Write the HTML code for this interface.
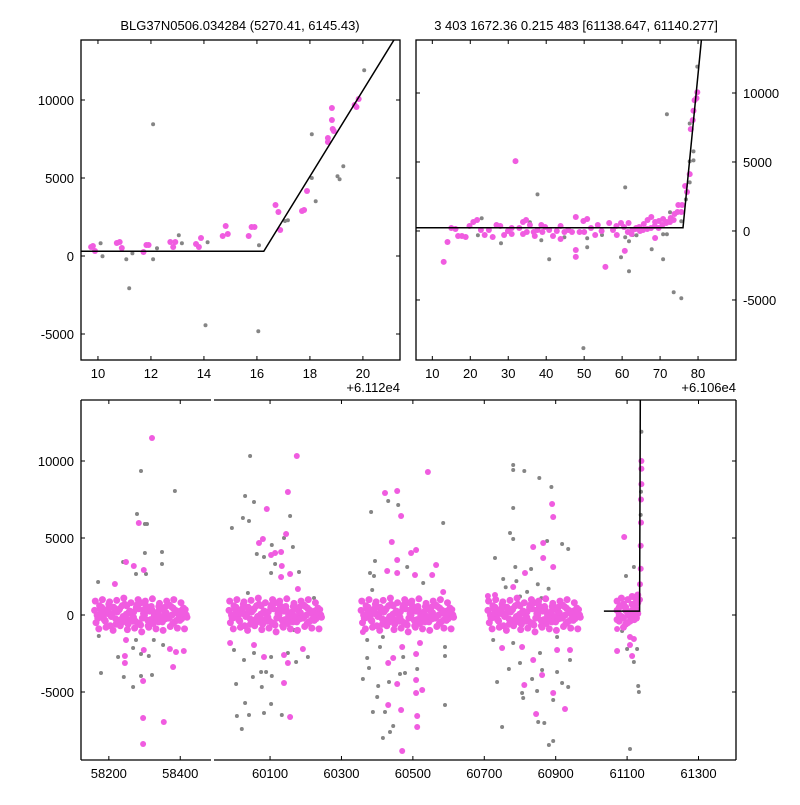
<!DOCTYPE html>
<html><head><meta charset="utf-8"><style>
body{margin:0;background:#fff}
svg text{font-family:"Liberation Sans",sans-serif;font-size:13px;fill:#000}
</style></head><body>
<svg id="s" width="800" height="800" xmlns="http://www.w3.org/2000/svg">
<text x="240" y="30" text-anchor="middle">BLG37N0506.034284 (5270.41, 6145.43)</text>
<text x="576" y="30" text-anchor="middle">3 403 1672.36 0.215 483 [61138.647, 61140.277]</text>
</svg>
<script>
// ---- top-left data ----
const tlPinkX=[9.74,9.81,9.89,10.71,10.82,10.9,11.72,11.83,11.91,12.73,12.84,12.92,13.7,13.81,13.89,14.71,14.82,14.9,15.69,15.8,15.91,16.7,16.81,16.88,17.7,17.78,17.89,18.68,18.68,18.83,18.83,18.86,18.9,19.69,19.76,19.84];
const tlPinkY=[577,641,320,833,898,513,256,705,705,898,577,898,769,577,1154,1282,1923,1410,1282,1859,1859,3270,2821,1667,2885,2949,4167,7565,7308,9488,8719,8142,8014,9681,9552,10065];
const tlGrayX=[10.1,10.17,11.07,11.18,11.3,12.08,12.08,12.23,13.05,13.17,14.06,14.14,16.05,16.08,17.06,17.17,18.07,18.07,18.22,19.04,19.12,19.26,20.05];
const tlGrayY=[812,-21,-214,-2073,171,8441,-214,492,1325,812,-4445,876,-4830,684,2244,2287,7800,5000,3505,5107,4915,5749,11903];
const tlLineX=[9.36,16.26,21.18];
const tlLineY=[300,300,13870];
// ---- top-right data ----
const trPinkX=[13,14,15,16.1,16.8,17.8,18.8,19.8,20.8,21.8,22.8,23.8,24.9,25.9,26.9,27.9,28.9,29.9,30.9,30.9,31.9,32.9,33.9,34.7,33.9,34.9,35.7,36.7,37,37.7,38.7,39,39.7,40.8,41.8,42.8,43.8,43.8,44.8,45.8,46.8,47.8,47.8,47.8,48.8,49.8,50.8,50,51.8,52.9,53.6,54.6,55.6,56.6,57.6,58.6,59.7,60.7,61.7,62.7,63.7,64.7,65.7,66.7,67.7,68.7,68.7,69.7,70.8,71.8,72.8,73.8,74.8,75.8,76.6,77.1,77.8,78.1,78.6,78.8,79.1,79.6,79.8,58.5,60.5,61.5,62.5,63.5,64.5,65.5,66.6,67.6,68.6,69.6,70.6,71.6,72.6,73.6,74.6,75.6];
const trPinkY=[-2243,-796,217,145,-362,-362,-434,362,651,796,72,-289,72,-434,434,362,-289,0,217,-217,5065,217,651,796,-217,-72,434,-72,-362,72,434,-72,289,72,-362,0,362,-579,-72,72,-72,1013,-1375,-1881,-72,724,868,-72,217,-289,434,0,-2605,579,72,-289,579,-1447,579,72,217,0,506,796,1013,-506,651,724,868,651,941,1230,1881,1881,3256,2822,4125,7381,8032,8707,9479,9624,10058,362,289,-72,-217,145,289,72,145,217,362,217,434,579,651,796,1375,1375];
const trGrayX=[22,23,28.1,35.7,37.7,38.7,40.8,44.8,49.8,50.8,50.8,54.7,59.7,60.8,60.8,61.8,61.8,62.8,63.8,67.8,70.8,70.8,71.8,71.8,72.6,73.6,75.6,75.6,76.8,77.8,77.8,78.8,78.8,77.8,79.8];
const trGrayY=[-314,917,-892,627,2653,-675,-2050,-458,-8490,-531,-1182,-289,-1905,3160,-458,-748,-2918,-289,-314,-1327,-2050,-241,8466,-241,1351,-4438,699,-4872,2291,3522,5041,5114,5765,7791,11915];
const trLineX=[5.7,76.05,80.9];
const trLineY=[241,241,13917];
// ---- bottom data ----
const bPinkOut=[[58321,11495],[58284,5975],[58298,2922],[58270,3182],[58248,3442],[58217,2013],[58245,-2662],[58245,-3117],[58296,-4286],[58296,-6689],[58354,-6949],[58296,-8377],[58380,-3377],[58388,-2403],[58410,-2338],[58371,-2208],[58298,-2273],[58248,-1624],
[60175,10325],[60150,7988],[60091,6884],[60145,5260],[60080,4935],[60069,4675],[60103,3896],[60114,4026],[60131,4091],[60133,3182],[60156,2662],[60131,2468],[60178,1688],[60139,-4416],[60156,-6624],[60139,-2598],[60150,-3117],[60192,-2208],[60083,-2727],[59988,-1818],[60055,-1948],
[60542,9286],[60422,7923],[60456,8053],[60467,6429],[60441,4740],[60495,4026],[60509,4221],[60456,3572],[60565,3247],[60554,2598],[60506,2598],[60456,2727],[60428,2857],[60585,1494],[60431,-3117],[60445,-2792],[60456,-4481],[60509,-5065],[60526,-4871],[60431,-5845],[60467,-6169],[60512,-6559],[60512,-7273],[60470,-8832],[60509,-4221],[60509,-2533],[60470,-2078],[60520,-1818],[60360,-1104],
[60890,7208],[60893,6364],[60865,4676],[60837,4416],[60865,3702],[60893,3117],[60814,2727],[60781,1818],[60730,1299],[60710,1234],[60750,-2143],[60806,-2078],[60837,-2922],[60812,-4546],[60862,-3896],[60893,-5065],[60926,-6104],[60845,-6429],[60904,-2273],[60940,-2273],
[61072,-909],[61072,-2338],[61108,-1429],[61119,-1559],[61114,-2663],[61108,-1948],[61092,5065],[61136,1000],[61136,2000],[61138,3000],[61138,4500],[61139,6000],[61139,7500],[61140,8500],[61140,9500],[61140,10000]];
const bGray=[[58290,9351],[58385,8053],[58279,6559],[58301,5910],[58307,5910],[58349,4091],[58349,3312],[58301,4026],[58240,3442],[58276,2662],[58304,2662],[58170,2143],[58178,-3767],[58226,-2727],[58242,-4026],[58268,-4676],[58290,-3961],[58321,-3896],[58268,-2143],[58290,-2533],[58312,-2663],[58352,-1948],[58172,-1364],[58276,-1624],[58326,-1624],[58214,-974],
[60044,10325],[60030,7728],[60055,7338],[59993,5650],[60024,6300],[60041,6105],[60156,6429],[60139,5000],[60164,4416],[60105,4546],[60063,3961],[60083,3766],[60114,3312],[60103,2727],[60181,2792],[60038,1429],[60005,-4481],[60030,-5715],[60007,-6559],[60021,-7403],[60041,-6494],[60083,-6364],[60103,-5780],[60133,-6494],[60075,-3702],[60089,-3702],[60052,-4026],[60077,-4676],[60105,-3961],[59999,-2273],[60027,-2922],[60055,-2468],[60103,-2727],[60150,-2468],[60173,-3052],[60206,-2727],[60167,-974],[60223,1104],
[60383,6689],[60431,7403],[60459,7143],[60585,5975],[60394,3507],[60380,2727],[60391,2533],[60484,3117],[60529,2078],[60386,1624],[60360,-4156],[60372,-2792],[60377,-3442],[60400,-5325],[60388,-6299],[60422,-6299],[60416,-7988],[60436,-7598],[60445,-7208],[60464,-3831],[60478,-3767],[60512,-3507],[60433,-4351],[60403,-4611],[60590,-5845],[60590,-2663],[60590,-2078],[60408,-2078],[60473,-2727],[60416,-1429],[60372,-1624],
[60781,9741],[60781,9416],[60812,9351],[60854,8897],[60888,8313],[60781,6949],[60772,5325],[60781,4935],[60730,3702],[60787,3117],[60831,2987],[60876,4806],[60918,4611],[60935,4286],[60753,2338],[60736,-4351],[60750,-7273],[60769,-3507],[60806,-5065],[60809,-5390],[60834,-4156],[60848,-4936],[60851,-6949],[60868,-7013],[60862,-3572],[60893,-5520],[60904,-3702],[60918,-4416],[60935,-4676],[60881,-8442],[60893,-8182],[60725,-1624],[60781,-1818],[60800,-3117],[60856,-2468],[60904,-1429],[60940,-2922],[60760,1800],[60790,2200],[60820,1500],[60850,2000],[60880,1700],[60800,1200],[60860,1100],[60770,1000],
[61097,2533],[61086,-1039],[61100,-2208],[61128,-2208],[61119,-3052],[61131,-4611],[61133,-5000],[61108,-8702],[61119,3117],[61139,8000],[61140,11900],[61138,6500]];
const coreStartX=[58160,59985,60355,60710];
const coreRow1=[300,-200,500,-400,700,100,-600,400,-100,600,-300,200,-500,800,0,-700,350,-250,550,-450,150,-150,450,-350,250,-50];
const coreRow2=[-500,600,-100,300,-700,500,200,-300,700,-600,100,-400,400,-200,600,250,-550,50,-350,300,-150,550,-450,150,-250,350];
const coreRow3=[0,400,-300,100,-100,300,-500,600,-200,200,-400,500,-600,100,400,-300,0,200,-100,500,-200,0,300,-100,100,0];
const coreRow4=[900,-900,1000,-800,850,-1000,950,-700,1100,-950,800,-850,1000,-1100,900,-800,1050,-900,750,-1000,900,-750,1000,-850,800,-900];
const coreRow5=[-200,150,-350,450,-50,-250,350,-450,50,250,-150,650,-650,350,-350,550,-150,-450,450,-250,650,-550,150,-350,450,-150];
const c5X=[61072,61078,61084,61090,61096,61102,61108,61114,61120,61126,61130];
const c5Y1=[300,-400,600,-200,500,-500,200,700,-300,400,100];
const c5Y2=[-300,500,-100,700,-600,100,-400,300,600,-200,800];
const c5Y3=[900,0,1100,-800,300,1000,-100,1200,0,1000,1300];
const bLineX=[61035,61135,61137];
const bLineY=[250,250,14000];

const NS="http://www.w3.org/2000/svg",S=document.getElementById('s');
const PINK="#f05ce0",GRAY="#858585";
function mk(t,a,p){const e=document.createElementNS(NS,t);for(const k in a)e.setAttribute(k,a[k]);(p||S).appendChild(e);return e;}
function lin(d0,d1,p0,p1){return v=>p0+(v-d0)*(p1-p0)/(d1-d0);}
let clipN=0;
function clipGroup(x0,y0,x1,y1,name){const id='c'+(clipN++);const cp=mk('clipPath',{id:id});mk('rect',{x:x0,y:y0,width:x1-x0,height:y1-y0},cp);const g=mk('g',{'clip-path':'url(#'+id+')'});return g;}
function dot(g,x,y,c,r,name){const e=mk('circle',{cx:x.toFixed(1),cy:y.toFixed(1),r:r,fill:c},g);

}
function poly(g,xs,ys,fx,fy,name){const e=mk('polyline',{points:xs.map((v,i)=>fx(v).toFixed(1)+','+fy(ys[i]).toFixed(1)).join(' '),fill:'none',stroke:'#000','stroke-width':1.5},g);

}
function txt(x,y,s,anchor,name){const e=mk('text',{x:x,y:y,'text-anchor':anchor});e.textContent=s;

}
function ln(x1,y1,x2,y2,name,w){const e=mk('line',{x1,y1,x2,y2,stroke:'#000','stroke-width':w||1});

}

// ---- top-left panel ----
{const X0=81,X1=400,Y0=40,Y1=360;const fx=lin(9.36,21.4,X0,X1),fy=lin(-6667,13846,Y1,Y0);
const g=clipGroup(X0,Y0,X1,Y1,'top-left-plot');
tlGrayX.forEach((v,i)=>dot(g,fx(v),fy(tlGrayY[i]),GRAY,2,'gray-point'));
tlPinkX.forEach((v,i)=>dot(g,fx(v),fy(tlPinkY[i]),PINK,3,'pink-point'));
poly(g,tlLineX,tlLineY,fx,fy,'fit-line');
[10,12,14,16,18,20].forEach(v=>{const x=fx(v);ln(x,Y1,x,Y1-4,'x-tick');ln(x,Y0,x,Y0+4,'x-tick');txt(x,378,String(v),'middle','x-tick-label');});
[-5000,0,5000,10000].forEach(v=>{const y=fy(v);ln(X0,y,X0+4,y,'y-tick');ln(X1,y,X1-4,y,'y-tick');txt(X0-7,y+5,String(v),'end','y-tick-label');});
const r=mk('rect',{x:X0,y:Y0,width:X1-X0,height:Y1-Y0,fill:'none',stroke:'#000','stroke-width':1.3});
txt(X1,392,'+6.112e4','end','x-offset-label');}
// ---- top-right panel ----
{const X0=416,X1=736,Y0=40,Y1=360;const fx=lin(5.7,90,X0,X1),fy=lin(-9350,13840,Y1,Y0);
const g=clipGroup(X0,Y0,X1,Y1,'top-right-plot');
trGrayX.forEach((v,i)=>dot(g,fx(v),fy(trGrayY[i]),GRAY,2,'gray-point'));
trPinkX.forEach((v,i)=>dot(g,fx(v),fy(trPinkY[i]),PINK,3,'pink-point'));
poly(g,trLineX,trLineY,fx,fy,'fit-line');
[10,20,30,40,50,60,70,80].forEach(v=>{const x=fx(v);ln(x,Y1,x,Y1-4,'x-tick');ln(x,Y0,x,Y0+4,'x-tick');txt(x,378,String(v),'middle','x-tick-label');});
[-5000,0,5000,10000].forEach(v=>{const y=fy(v);ln(X0,y,X0+4,y,'y-tick');ln(X1,y,X1-4,y,'y-tick');txt(X1+7,y+5,String(v),'start','y-tick-label');});
const r=mk('rect',{x:X0,y:Y0,width:X1-X0,height:Y1-Y0,fill:'none',stroke:'#000','stroke-width':1.3});
txt(X1,392,'+6.106e4','end','x-offset-label');}
// ---- bottom panel (broken x axis) ----
{const Y0=400,Y1=760,L0=81,L1=211,R0=214,R1=736;const fy=lin(-9416,13961,Y1,Y0);
const fxL=lin(58122,58485,L0,L0+(58485-58122)*0.357),fxR=lin(59943,61405,R0,R1);
const fx=v=>v<59000?fxL(v):fxR(v);
const gl=clipGroup(L0,Y0,L1,Y1,'bottom-left-plot'),gr=clipGroup(R0,Y0,R1,Y1,'bottom-right-plot');
const G=v=>v<59000?gl:gr;
bGray.forEach(p=>dot(G(p[0]),fx(p[0]),fy(p[1]),GRAY,2,'gray-point'));
const offs=[0,4,7,2,9];
coreStartX.forEach(x0=>{[coreRow1,coreRow2,coreRow3,coreRow4,coreRow5].forEach((row,ri)=>row.forEach((v,i)=>{const x=x0+i*10+offs[ri];dot(G(x),fx(x),fy(v),PINK,3.5,'pink-point');}));});
c5X.forEach((x,i)=>{dot(gr,fx(x),fy(c5Y1[i]),PINK,3.5,'pink-point');dot(gr,fx(x),fy(c5Y2[i]),PINK,3.5,'pink-point');dot(gr,fx(x),fy(c5Y3[i]),PINK,3.5,'pink-point');});
bPinkOut.forEach(p=>dot(G(p[0]),fx(p[0]),fy(p[1]),PINK,3,'pink-point'));
poly(gr,bLineX,bLineY,fxR,fy,'fit-line');
[58200,58400].forEach(v=>{const x=fxL(v);ln(x,Y1,x,Y1-4,'x-tick');ln(x,Y0,x,Y0+4,'x-tick');txt(x,778,String(v),'middle','x-tick-label');});
[60100,60300,60500,60700,60900,61100,61300].forEach(v=>{const x=fxR(v);ln(x,Y1,x,Y1-4,'x-tick');ln(x,Y0,x,Y0+4,'x-tick');txt(x,778,String(v),'middle','x-tick-label');});
[-5000,0,5000,10000].forEach(v=>{const y=fy(v);ln(L0,y,L0+4,y,'y-tick');ln(R1,y,R1-4,y,'y-tick');txt(L0-7,y+5,String(v),'end','y-tick-label');});
ln(L0,Y0,L0,Y1,'left-spine',1.3);ln(R1,Y0,R1,Y1,'right-spine',1.3);
ln(L0,Y0,L1,Y0,'top-spine-left',1.3);ln(R0,Y0,R1,Y0,'top-spine-right',1.3);
ln(L0,Y1,L1,Y1,'bottom-spine-left',1.3);ln(R0,Y1,R1,Y1,'bottom-spine-right',1.3);}
</script>
</body></html>
